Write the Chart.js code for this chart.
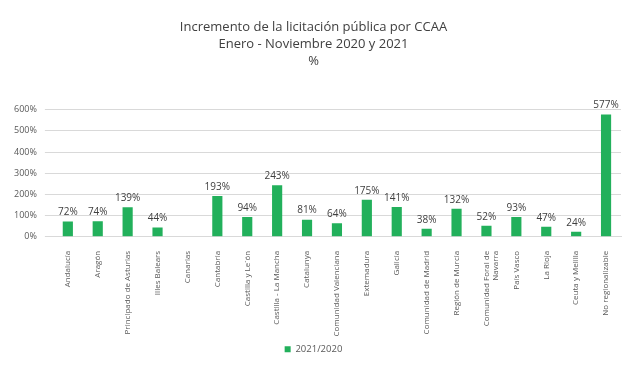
<!DOCTYPE html>
<html><head><meta charset="utf-8">
<script src="https://cdn.jsdelivr.net/npm/chart.js@4"></script>
<style>body{margin:0;background:#fff}#w{width:634px;height:381px}</style>
</head><body><div id="w"><canvas id="c"></canvas></div>
<script>
const categories = ["Andalucía","Aragón","Principado de Asturias","Illes Balears","Canarias","Cantabria","Castilla y Le´ón","Castilla - La Mancha","Catalunya","Comunidad Valenciana","Extemadura","Galicia","Comunidad de Madrid","Región de Murcia",["Comunidad Foral de","Navarra"],"País Vasco","La Rioja","Ceuta y Melilla","No regionalizable"];
const values = [72,74,139,44,null,193,94,243,81,64,175,141,38,132,52,93,47,24,577];
const yTicks = [0,100,200,300,400,500,600];
const seriesName = "2021/2020";
const titleLines = ["Incremento de la licitación pública por CCAA","Enero - Noviembre 2020 y 2021","%"];

const labelPlugin = {
  id:'vlabels',
  afterDatasetsDraw(chart){
    const ctx = chart.ctx;
    const meta = chart.getDatasetMeta(0);
    ctx.save();
    ctx.font = '10px "Open Sans"';
    ctx.fillStyle = '#404040';
    ctx.textAlign = 'center';
    ctx.textBaseline = 'bottom';
    meta.data.forEach((el,i)=>{
      const v = values[i];
      if (v === null) return;
      ctx.fillText(v + '%', el.x, el.y - 4);
    });
    ctx.restore();
  }
};

new Chart(document.getElementById('c'), {
  type:'bar',
  data:{labels:categories, datasets:[{label:seriesName,data:values,backgroundColor:'#22b05b',categoryPercentage:1,barPercentage:0.34}]},
  options:{
    responsive:true, maintainAspectRatio:false, animation:false,
    layout:{padding:{left:6,right:13,top:0,bottom:17}},
    plugins:{
      title:{display:true,text:titleLines,color:'#404040',font:{family:'Open Sans',size:13,weight:'normal',lineHeight:1.3},padding:{top:19,bottom:40}},
      legend:{position:'bottom',labels:{color:'#595959',boxWidth:6,boxHeight:6,font:{family:'Open Sans',size:9.5},padding:10}},
      tooltip:{enabled:false}
    },
    scales:{
      x:{grid:{display:false},border:{color:'#d9d9d9'},afterFit(s){s.height-=8;s._computeLabelArea=()=>undefined;},ticks:{color:'#595959',font:{family:'Open Sans',size:8},minRotation:90,maxRotation:90,autoSkip:false,padding:6}},
      y:{min:0,max:600,afterBuildTicks(ax){ax.ticks=yTicks.map(v=>({value:v}));},grid:{color:'#d9d9d9'},border:{display:false},ticks:{color:'#595959',font:{family:'Open Sans',size:9},callback:v=>v+'%',padding:8}}
    }
  },
  plugins:[labelPlugin]
});
</script></body></html>
